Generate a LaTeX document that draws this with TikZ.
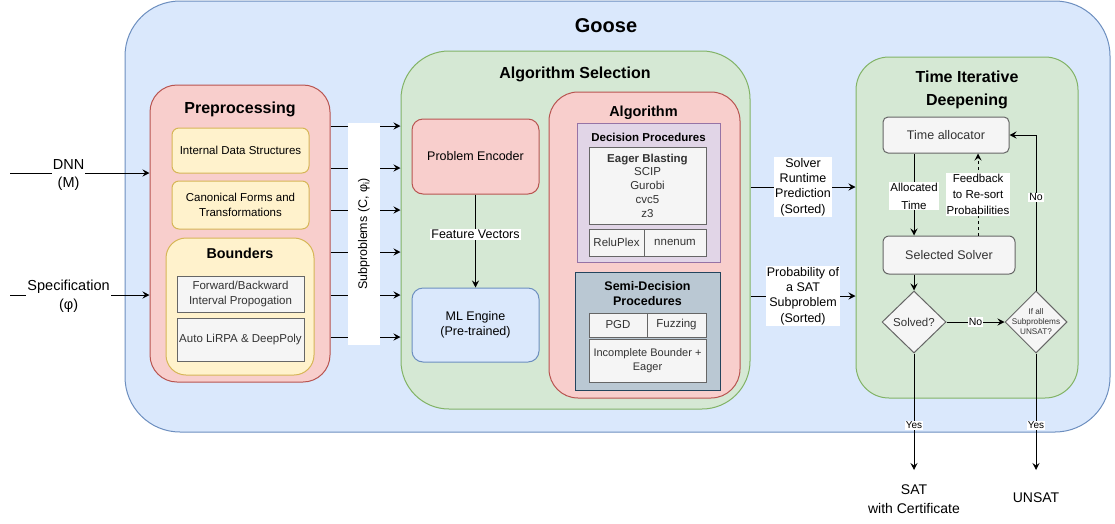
\documentclass[tikz,border=0pt]{standalone}
\usepackage{fontspec}
\setmainfont{Liberation Sans}
\usetikzlibrary{arrows.meta,shapes.geometric,calc}

\definecolor{blueF}{HTML}{DAE8FC}\definecolor{blueD}{HTML}{6C8EBF}
\definecolor{redF}{HTML}{F8CECC}\definecolor{redD}{HTML}{B85450}
\definecolor{greenF}{HTML}{D5E8D4}\definecolor{greenD}{HTML}{82B366}
\definecolor{yelF}{HTML}{FFF2CC}\definecolor{yelD}{HTML}{D6B656}
\definecolor{grayF}{HTML}{F5F5F5}\definecolor{grayD}{HTML}{666666}\definecolor{grayT}{HTML}{333333}
\definecolor{purF}{HTML}{E1D5E7}\definecolor{purD}{HTML}{9673A6}
\definecolor{slateF}{HTML}{BAC8D3}\definecolor{slateD}{HTML}{23445D}

\newcommand\fsz[2]{\fontsize{#1}{#2}\selectfont}

\tikzset{
  base/.style={draw, line width=1pt, inner sep=0pt, align=center, font=\fsz{12.5}{15}},
  wh/.style 2 args={minimum width=#1, minimum height=#2},
  bluebox/.style={base, fill=blueF, draw=blueD},
  redbox/.style={base, fill=redF, draw=redD},
  greenbox/.style={base, fill=greenF, draw=greenD},
  yelbox/.style={base, fill=yelF, draw=yelD},
  graybox/.style={base, fill=grayF, draw=grayD, text=grayT},
  title/.style={font=\bfseries\fsz{16}{22}, align=center, inner sep=0pt},
  arr/.style={line width=1pt, -{Stealth[length=7pt,width=7pt,inset=2.5pt]}},
  lbl/.style={fill=white, inner sep=1pt, align=center, font=\fsz{12.5}{15.3}},
}

\begin{document}
\begin{tikzpicture}[x=1pt,y=-1pt]
\useasboundingbox (0,0) rectangle (1115,523);

% outer container
\node[bluebox, wh={985}{431}, rounded corners=55] (goose) at (617.5,216.5) {};
\node[title, font=\bfseries\fsz{20}{24}] (goosetitle) at (606,25.5) {Goose};

% preprocessing stage
\node[redbox, wh={180}{297}, rounded corners=27] (prep) at (240,233.5) {};
\node[title] (preptitle) at (240,109) {Preprocessing};
\node[yelbox, wh={137}{45}, rounded corners=7, font=\fsz{11.5}{14.5}] (ids) at (240.5,150.5) {Internal Data Structures};
\node[yelbox, wh={137}{48}, rounded corners=7, font=\fsz{11.5}{14.5}] (cft) at (240.5,205) {Canonical Forms and\\Transformations};
\node[yelbox, wh={148}{137}, rounded corners=20] (bnd) at (240,306.5) {};
\node[title, font=\bfseries\fsz{14.3}{17}] (bndtitle) at (240,253.5) {Bounders};
\node[graybox, wh={127}{36}, font=\fsz{11.5}{15}] (fb) at (240.5,294) {Forward/Backward\\Interval Propogation};
\node[graybox, wh={127}{43}, font=\fsz{11.5}{15}] (alp) at (240.5,339.5) {Auto LiRPA \& DeepPoly};

% inputs
\coordinate (dnnin) at (10,173);
\coordinate (specin) at (10,295);
\draw[arr] (dnnin) -- (prep.west |- dnnin)
  node[pos=0.42, lbl, yshift=-2pt, font=\fsz{14.5}{18.5}] {DNN\\(M)};
\draw[arr] (specin) -- (prep.west |- specin)
  node[pos=0.42, lbl, yshift=-1pt, font=\fsz{14.5}{18.5}] {Specification\\(φ)};

% algorithm selection stage
\node[greenbox, wh={349}{358}, rounded corners=48] (algsel) at (575.5,230) {};
\node[title] (algseltitle) at (575,74.5) {Algorithm Selection};

% subproblem arrows
\foreach \yy in {126,168,210,252,295,337}{
  \coordinate (t) at (0,\yy);
  \draw[arr] (prep.east |- t) -- (algsel.west |- t);
}
\node[fill=white, inner sep=0pt, rotate=90, wh={222}{32}, font=\fsz{12.5}{15}] (subp) at (364,234) {Subproblems (C, φ\textsubscript{i})};

\node[redbox, wh={127}{75}, rounded corners=11] (pe) at (475.5,156.5) {Problem Encoder};
\node[bluebox, wh={127}{74}, rounded corners=11] (ml) at (475.5,325) {ML Engine\\(Pre-trained)};
\draw[arr] (pe.south) -- (ml.north) node[pos=0.43, lbl] {Feature Vectors};

% algorithm portfolio
\node[redbox, wh={191}{306}, rounded corners=29] (alg) at (644.5,245) {};
\node[title, font=\bfseries\fsz{14.5}{17}] (algtitle) at (643.5,112.5) {Algorithm};

\node[base, fill=purF, draw=purD, wh={143}{139}] (dp) at (648.5,192.5) {};
\node[title, font=\bfseries\fsz{11.5}{14}] (dptitle) at (648.5,137) {Decision Procedures};
\node[graybox, wh={117}{77}, font=\fsz{11.5}{13.75}] (eb) at (647.5,185.5) {{\bfseries Eager Blasting}\\SCIP\\Gurobi\\cvc5\\z3};
\node[graybox, wh={55}{27}, font=\fsz{11.5}{14}] (rp) at (616.5,242.5) {ReluPlex};
\node[graybox, wh={62}{27}, font=\fsz{11.5}{14}] (nn) at (675,242.5) {nnenum};

\node[base, fill=slateF, draw=slateD, wh={145}{118}] (sd) at (647.5,331) {};
\node[title, font=\bfseries\fsz{12.5}{14.5}] (sdtitle) at (647.5,293.5) {Semi-Decision\\Procedures};
\node[graybox, wh={58}{24}, font=\fsz{11.5}{14}] (pgd) at (618,325) {PGD};
\node[graybox, wh={59}{24}, font=\fsz{11.5}{14}] (fz) at (676.5,325) {Fuzzing};
\node[graybox, wh={117}{43}, font=\fsz{11}{14}] (ib) at (647.5,360.5) {Incomplete Bounder +\\Eager};

% time iterative deepening stage
\node[greenbox, wh={222}{341}, rounded corners=33] (tid) at (967,227.5) {};
\node[title, font=\bfseries\fsz{16}{23}] (tidtitle) at (967,90) {Time Iterative\\Deepening};
\node[graybox, wh={126}{36}, rounded corners=5] (ta) at (946,135) {Time allocator};
\node[graybox, wh={132}{38}, rounded corners=6] (ss) at (949,255) {Selected Solver};
\node[graybox, diamond, wh={64}{62}, font=\fsz{11.5}{14}] (solved) at (914,322) {Solved?};
\node[graybox, diamond, wh={62}{62},
  label={[font=\fsz{8.2}{10}, text=grayT, align=center, inner sep=0pt]center:If all\\Subproblems\\UNSAT?}] (ifall) at (1036,322) {};

% predictions handed to the scheduler
\coordinate (rt) at (0,187);
\coordinate (pr) at (0,296);
\draw[arr] (algsel.east |- rt) -- (tid.west |- rt)
  node[midway, lbl] {Solver\\Runtime\\Prediction\\(Sorted)};
\draw[arr] (algsel.east |- pr) -- (tid.west |- pr)
  node[midway, lbl] {Probability of\\a SAT\\Subproblem\\(Sorted)};

% scheduling loop
\coordinate (cx1) at (914,0);
\coordinate (cx2) at (978,0);
\draw[arr] (ta.south -| cx1) -- (ss.north -| cx1)
  node[pos=0.52, lbl, font=\fsz{11.5}{18}] {Allocated\\Time};
\draw[arr, dash pattern=on 3pt off 3pt] (ss.north -| cx2) -- (ta.south -| cx2)
  node[midway, lbl, font=\fsz{11.5}{16}] {Feedback\\to Re-sort\\Probabilities};
\draw[arr] (ss.south -| cx1) -- (solved.north);
\draw[arr] (solved.east) -- (ifall.west) node[midway, lbl, font=\fsz{10.5}{12}] {No};
\draw[arr] (ifall.north) |- (ta.east) node[pos=0.3, lbl, font=\fsz{10.5}{12}] {No};

% final verdicts
\coordinate (satend) at (914,470);
\coordinate (unsatend) at (1036,470);
\draw[arr] (solved.south) -- (satend) node[pos=0.615, lbl, font=\fsz{10}{12}] {Yes};
\draw[arr] (ifall.south) -- (unsatend) node[pos=0.615, lbl, font=\fsz{10}{12}] {Yes};
\node[align=center, inner sep=0pt, font=\fsz{14}{19}] (sat) at (914,499) {SAT\\with Certificate};
\node[align=center, inner sep=0pt, font=\fsz{14}{19}] (unsat) at (1036,498) {UNSAT};
\end{tikzpicture}
\end{document}
